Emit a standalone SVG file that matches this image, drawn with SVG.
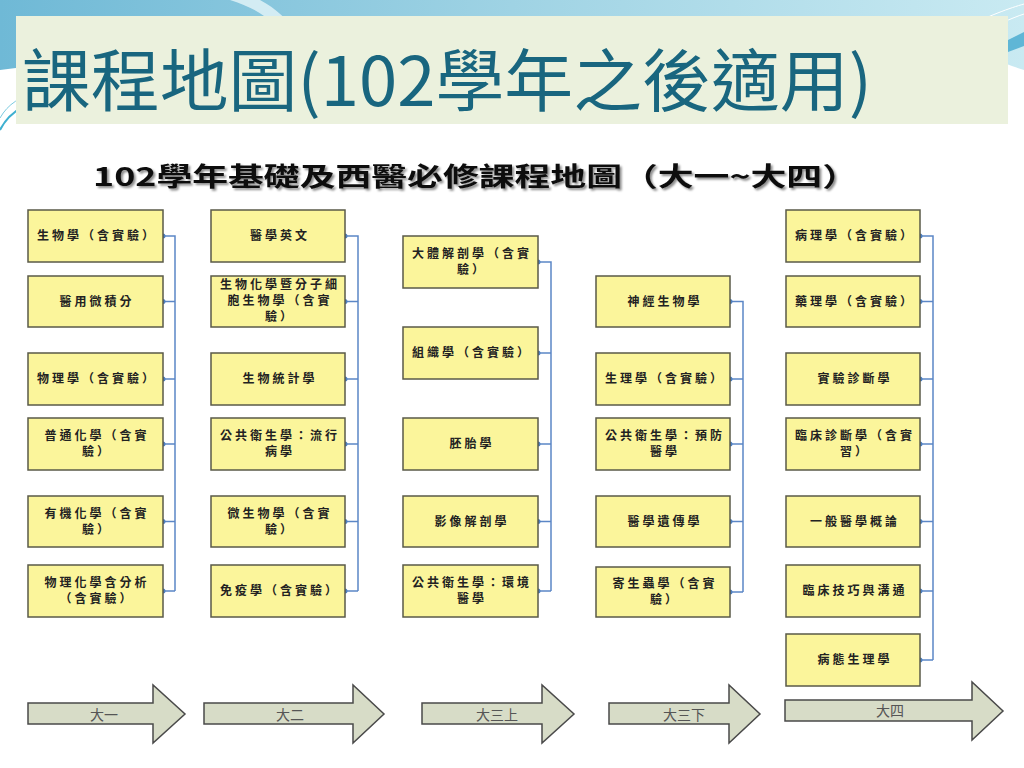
<svg xmlns="http://www.w3.org/2000/svg" width="1024" height="768" viewBox="0 0 1024 768">
<defs>
<linearGradient id="topg" x1="0" y1="0" x2="1" y2="0">
<stop offset="0" stop-color="#6fb9d6"/>
<stop offset="0.5" stop-color="#9fd3e4"/>
<stop offset="1" stop-color="#c9eaf2"/>
</linearGradient>
<filter id="sh" x="-5%" y="-30%" width="110%" height="160%">
<feDropShadow dx="2" dy="2" stdDeviation="1.2" flood-color="#000" flood-opacity="0.45"/>
</filter>
<style>
.box{fill:#fbf59b;stroke:#5a5a48;stroke-width:1.5}
.bt{font-family:"Noto Sans CJK TC","Noto Sans CJK SC",sans-serif;font-weight:700;font-size:12px;fill:#222;text-anchor:middle;letter-spacing:3px}
.con{fill:none;stroke:#5b86c6;stroke-width:1.5}
.dot{fill:#4f7fc0}
.arr{fill:#d7dcc7;stroke:#4a4a4a;stroke-width:1.5}
.at{font-family:"Noto Sans CJK TC","Noto Sans CJK SC",sans-serif;font-size:14px;fill:#555;text-anchor:middle}
</style>
</defs>
<rect width="1024" height="768" fill="#ffffff"/>
<!-- top decoration -->
<path d="M0 0 H1024 V70 C990 60 960 40 900 30 C700 10 400 20 0 70 Z" fill="url(#topg)"/>
<path d="M230 0 C260 10 275 20 280 40 L300 40 C290 20 275 8 260 0 Z" fill="#e6f5f9" opacity="0.8"/>
<path d="M0 130 C10 110 30 100 60 95" fill="none" stroke="#3fb0d0" stroke-width="2"/>
<path d="M0 118 C8 104 20 96 40 92" fill="none" stroke="#7ccbe0" stroke-width="1"/>
<path d="M960 30 C990 15 1010 8 1024 4" fill="none" stroke="#ffffff" stroke-width="1"/>
<path d="M970 40 C995 25 1012 18 1024 14" fill="none" stroke="#ffffff" stroke-width="1"/>
<path d="M1008 40 L1024 32 V46 L1008 52 Z" fill="#5fb6d6"/>
<rect x="16" y="16" width="992" height="108" fill="#ebf1dd"/>
<text x="22" y="106" textLength="850" lengthAdjust="spacingAndGlyphs" font-family="'Noto Sans CJK TC','Noto Sans CJK SC',sans-serif" font-size="68" fill="#19667f">課程地圖(102學年之後適用)</text>
<text x="93" y="186" textLength="765" lengthAdjust="spacingAndGlyphs" font-family="'Noto Sans CJK TC','Noto Sans CJK SC',serif" font-weight="700" font-size="26" fill="#111" filter="url(#sh)">102學年基礎及西醫必修課程地圖（大一~大四）</text>

<g id="connectors">
<path class="con" d="M163 236H175V591M163 301.5H175M163 379H175M163 444H175M163 521.5H175M163 591H175"/>
<path class="con" d="M345 236H358V591M345 301.5H358M345 379H358M345 444H358M345 521.5H358M345 591H358"/>
<path class="con" d="M538 262H551V591M538 353H551M538 444H551M538 521.5H551M538 591H551"/>
<path class="con" d="M730 301.5H743V592M730 379H743M730 444H743M730 521.5H743M730 592H743"/>
<path class="con" d="M920 236H933V660M920 301.5H933M920 379H933M920 444H933M920 521.5H933M920 591H933M920 660H933"/>
<g class="dot">
<circle cx="163" cy="236" r="2.5"/><circle cx="163" cy="301.5" r="2.5"/><circle cx="163" cy="379" r="2.5"/><circle cx="163" cy="444" r="2.5"/><circle cx="163" cy="521.5" r="2.5"/><circle cx="163" cy="591" r="2.5"/>
<circle cx="345" cy="236" r="2.5"/><circle cx="345" cy="301.5" r="2.5"/><circle cx="345" cy="379" r="2.5"/><circle cx="345" cy="444" r="2.5"/><circle cx="345" cy="521.5" r="2.5"/><circle cx="345" cy="591" r="2.5"/>
<circle cx="538" cy="262" r="2.5"/><circle cx="538" cy="353" r="2.5"/><circle cx="538" cy="444" r="2.5"/><circle cx="538" cy="521.5" r="2.5"/><circle cx="538" cy="591" r="2.5"/>
<circle cx="730" cy="301.5" r="2.5"/><circle cx="730" cy="379" r="2.5"/><circle cx="730" cy="444" r="2.5"/><circle cx="730" cy="521.5" r="2.5"/><circle cx="730" cy="592" r="2.5"/>
<circle cx="920" cy="236" r="2.5"/><circle cx="920" cy="301.5" r="2.5"/><circle cx="920" cy="379" r="2.5"/><circle cx="920" cy="444" r="2.5"/><circle cx="920" cy="521.5" r="2.5"/><circle cx="920" cy="591" r="2.5"/><circle cx="920" cy="660" r="2.5"/>
</g>
</g>

<!-- Column 1 -->
<g id="n-bio"><rect class="box" x="28" y="210" width="135" height="52"/><text class="bt" x="97" y="240">生物學（含實驗）</text></g>
<g id="n-calc"><rect class="box" x="28" y="276" width="135" height="51"/><text class="bt" x="97" y="306">醫用微積分</text></g>
<g id="n-phys"><rect class="box" x="28" y="353" width="135" height="52"/><text class="bt" x="97" y="383">物理學（含實驗）</text></g>
<g id="n-gchem"><rect class="box" x="28" y="418" width="135" height="52"/><text class="bt" x="97" y="440">普通化學（含實</text><text class="bt" x="97" y="456">驗）</text></g>
<g id="n-ochem"><rect class="box" x="28" y="496" width="135" height="51"/><text class="bt" x="97" y="518">有機化學（含實</text><text class="bt" x="97" y="534">驗）</text></g>
<g id="n-pchem"><rect class="box" x="28" y="565" width="135" height="52"/><text class="bt" x="97" y="587">物理化學含分析</text><text class="bt" x="97" y="603">（含實驗）</text></g>

<!-- Column 2 -->
<g id="n-eng"><rect class="box" x="211" y="210" width="134" height="52"/><text class="bt" x="280" y="240">醫學英文</text></g>
<g id="n-biochem"><rect class="box" x="211" y="276" width="134" height="51"/><text class="bt" x="280" y="289">生物化學暨分子細</text><text class="bt" x="280" y="305">胞生物學（含實</text><text class="bt" x="280" y="321">驗）</text></g>
<g id="n-biostat"><rect class="box" x="211" y="353" width="134" height="52"/><text class="bt" x="280" y="383">生物統計學</text></g>
<g id="n-epi"><rect class="box" x="211" y="418" width="134" height="52"/><text class="bt" x="280" y="440">公共衛生學：流行</text><text class="bt" x="280" y="456">病學</text></g>
<g id="n-micro"><rect class="box" x="211" y="496" width="134" height="51"/><text class="bt" x="280" y="518">微生物學（含實</text><text class="bt" x="280" y="534">驗）</text></g>
<g id="n-immu"><rect class="box" x="211" y="565" width="134" height="52"/><text class="bt" x="280" y="595">免疫學（含實驗）</text></g>

<!-- Column 3 -->
<g id="n-anat"><rect class="box" x="403" y="236" width="135" height="52"/><text class="bt" x="472" y="258">大體解剖學（含實</text><text class="bt" x="472" y="274">驗）</text></g>
<g id="n-histo"><rect class="box" x="403" y="327" width="135" height="52"/><text class="bt" x="472" y="357">組織學（含實驗）</text></g>
<g id="n-embryo"><rect class="box" x="403" y="418" width="135" height="52"/><text class="bt" x="472" y="448">胚胎學</text></g>
<g id="n-imganat"><rect class="box" x="403" y="496" width="135" height="51"/><text class="bt" x="472" y="526">影像解剖學</text></g>
<g id="n-envmed"><rect class="box" x="403" y="565" width="135" height="52"/><text class="bt" x="472" y="587">公共衛生學：環境</text><text class="bt" x="472" y="603">醫學</text></g>

<!-- Column 4 -->
<g id="n-neuro"><rect class="box" x="596" y="276" width="134" height="51"/><text class="bt" x="665" y="306">神經生物學</text></g>
<g id="n-physio"><rect class="box" x="596" y="353" width="134" height="52"/><text class="bt" x="665" y="383">生理學（含實驗）</text></g>
<g id="n-prevmed"><rect class="box" x="596" y="418" width="134" height="52"/><text class="bt" x="665" y="440">公共衛生學：預防</text><text class="bt" x="665" y="456">醫學</text></g>
<g id="n-genet"><rect class="box" x="596" y="496" width="134" height="51"/><text class="bt" x="665" y="526">醫學遺傳學</text></g>
<g id="n-parasit"><rect class="box" x="596" y="567" width="134" height="50"/><text class="bt" x="665" y="588">寄生蟲學（含實</text><text class="bt" x="665" y="604">驗）</text></g>

<!-- Column 5 -->
<g id="n-patho"><rect class="box" x="786" y="210" width="134" height="52"/><text class="bt" x="855" y="240">病理學（含實驗）</text></g>
<g id="n-pharm"><rect class="box" x="786" y="276" width="134" height="51"/><text class="bt" x="855" y="306">藥理學（含實驗）</text></g>
<g id="n-labdx"><rect class="box" x="786" y="353" width="134" height="52"/><text class="bt" x="855" y="383">實驗診斷學</text></g>
<g id="n-clindx"><rect class="box" x="786" y="418" width="134" height="52"/><text class="bt" x="855" y="440">臨床診斷學（含實</text><text class="bt" x="855" y="456">習）</text></g>
<g id="n-genmed"><rect class="box" x="786" y="496" width="134" height="51"/><text class="bt" x="855" y="526">一般醫學概論</text></g>
<g id="n-clinskill"><rect class="box" x="786" y="565" width="134" height="52"/><text class="bt" x="855" y="595">臨床技巧與溝通</text></g>
<g id="n-pathophys"><rect class="box" x="786" y="634" width="134" height="52"/><text class="bt" x="855" y="664">病態生理學</text></g>

<!-- Year arrows -->
<g id="y1"><polygon class="arr" points="28,703 153,703 153,685 185,714 153,743 153,724 28,724"/><text class="at" x="104" y="720">大一</text></g>
<g id="y2"><polygon class="arr" points="204,703 353,703 353,685 384,714 353,743 353,724 204,724"/><text class="at" x="290" y="720">大二</text></g>
<g id="y3a"><polygon class="arr" points="422,703 542,703 542,685 574,714 542,743 542,724 422,724"/><text class="at" x="497" y="720">大三上</text></g>
<g id="y3b"><polygon class="arr" points="609,703 729,703 729,685 760,714 729,743 729,724 609,724"/><text class="at" x="684" y="720">大三下</text></g>
<g id="y4"><polygon class="arr" points="785,700 972,700 972,682 1003,711 972,740 972,721 785,721"/><text class="at" x="890" y="716">大四</text></g>
</svg>
